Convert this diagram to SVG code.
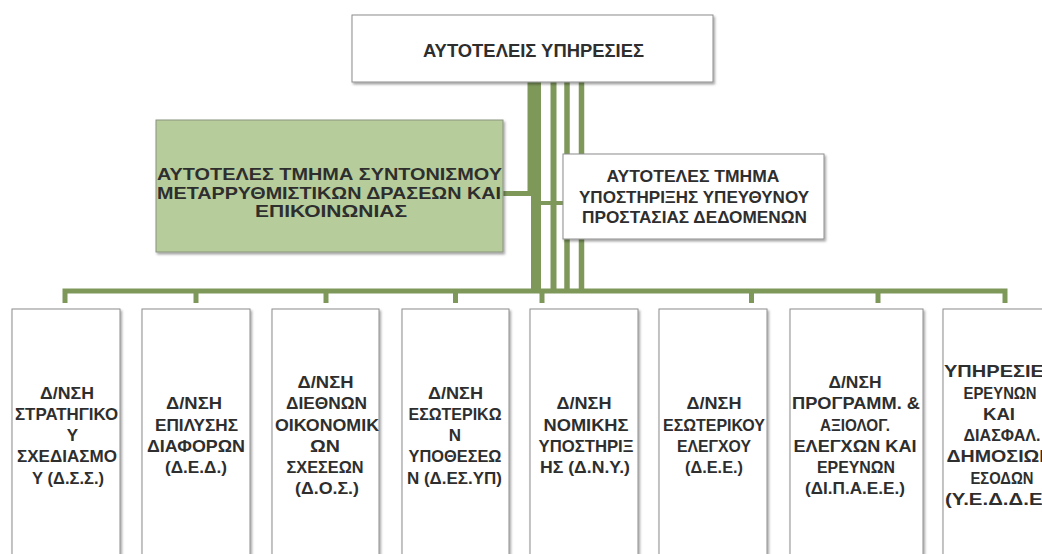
<svg xmlns="http://www.w3.org/2000/svg" width="1042" height="554" viewBox="0 0 1042 554">
<style>
.box{fill:#ffffff;stroke:#8c8c8c;stroke-width:1;filter:url(#sh)}
.gbox{fill:#b6cc9b;stroke:#8a9480;stroke-width:1;filter:url(#sh)}
.ln{stroke:#7e985a;fill:none;stroke-linecap:butt;stroke-linejoin:miter}
.t{font-family:"Liberation Sans","DejaVu Sans",Arial,sans-serif;fill:#2e2e2e;text-anchor:middle;font-weight:bold}
.tb{font-size:17px}
.tm{font-size:17px}
.tt{font-size:18.5px}
</style>
<defs>
<filter id="sh" x="-10%" y="-10%" width="130%" height="130%">
<feDropShadow dx="1.5" dy="2" stdDeviation="1.3" flood-color="#000" flood-opacity="0.35"/>
</filter>
</defs>
<rect width="1042" height="554" fill="#ffffff"/>
<g id="connectors">
<path class="ln" d="M530,82 V193.5 H503" stroke-width="5"/>
<path class="ln" d="M536,82 V291" stroke-width="10"/>
<path class="ln" d="M541,203 H563" stroke-width="4"/>
<path class="ln" d="M553.5,82 V291" stroke-width="6"/>
<path class="ln" d="M567,82 V291" stroke-width="5.5"/>
<path class="ln" d="M581.5,82 V291" stroke-width="5.5"/>
<path class="ln" d="M65,303 V291 H1005 V303" stroke-width="5"/>
<path class="ln" d="M196,291 V303 M326,291 V303 M455.5,291 V303 M542,291 V303 M751.5,291 V303 M878,291 V303" stroke-width="5"/>
</g>
<g id="node-top">
<rect class="box" x="352" y="15" width="361" height="67"/>
<text class="t tt" x="533.5" y="57" textLength="221" lengthAdjust="spacingAndGlyphs">ΑΥΤΟΤΕΛΕΙΣ ΥΠΗΡΕΣΙΕΣ</text>
</g>
<g id="node-coord">
<rect class="gbox" x="156" y="120" width="347" height="132"/>
<text class="t tm" x="329.5" y="180" textLength="345" lengthAdjust="spacingAndGlyphs">ΑΥΤΟΤΕΛΕΣ ΤΜΗΜΑ ΣΥΝΤΟΝΙΣΜΟΥ</text>
<text class="t tm" x="329" y="198.5" textLength="344" lengthAdjust="spacingAndGlyphs">ΜΕΤΑΡΡΥΘΜΙΣΤΙΚΩΝ ΔΡΑΣΕΩΝ ΚΑΙ</text>
<text class="t tm" x="331" y="217" textLength="152" lengthAdjust="spacingAndGlyphs">ΕΠΙΚΟΙΝΩΝΙΑΣ</text>
</g>
<g id="node-dpo">
<rect class="box" x="563" y="154" width="261" height="85"/>
<text class="t tm" x="693" y="181.7" textLength="173" lengthAdjust="spacingAndGlyphs">ΑΥΤΟΤΕΛΕΣ ΤΜΗΜΑ</text>
<text class="t tm" x="694" y="203.3" textLength="230" lengthAdjust="spacingAndGlyphs">ΥΠΟΣΤΗΡΙΞΗΣ ΥΠΕΥΘΥΝΟΥ</text>
<text class="t tm" x="694.5" y="223.3" textLength="225" lengthAdjust="spacingAndGlyphs">ΠΡΟΣΤΑΣΙΑΣ ΔΕΔΟΜΕΝΩΝ</text>
</g>
<g id="node-dss">
<rect class="box" x="12" y="309" width="108" height="252"/>
<text class="t tb" x="67" y="398.5" textLength="54" lengthAdjust="spacingAndGlyphs">Δ/ΝΣΗ</text>
<text class="t tb" x="66.5" y="419.8" textLength="103" lengthAdjust="spacingAndGlyphs">ΣΤΡΑΤΗΓΙΚΟ</text>
<text class="t tb" x="72.5" y="441.1">Υ</text>
<text class="t tb" x="67" y="462.4" textLength="100" lengthAdjust="spacingAndGlyphs">ΣΧΕΔΙΑΣΜΟ</text>
<text class="t tb" x="68" y="483.7" textLength="72" lengthAdjust="spacingAndGlyphs">Υ (Δ.Σ.Σ.)</text>
</g>
<g id="node-ded">
<rect class="box" x="142" y="309" width="108" height="252"/>
<text class="t tb" x="194" y="409.2" textLength="56" lengthAdjust="spacingAndGlyphs">Δ/ΝΣΗ</text>
<text class="t tb" x="196.5" y="430.5" textLength="83" lengthAdjust="spacingAndGlyphs">ΕΠΙΛΥΣΗΣ</text>
<text class="t tb" x="196" y="451.8" textLength="98" lengthAdjust="spacingAndGlyphs">ΔΙΑΦΟΡΩΝ</text>
<text class="t tb" x="196" y="473.1" textLength="62" lengthAdjust="spacingAndGlyphs">(Δ.Ε.Δ.)</text>
</g>
<g id="node-dos">
<rect class="box" x="272" y="309" width="107" height="252"/>
<text class="t tb" x="325.5" y="387.9" textLength="56" lengthAdjust="spacingAndGlyphs">Δ/ΝΣΗ</text>
<text class="t tb" x="326.5" y="409.2" textLength="81" lengthAdjust="spacingAndGlyphs">ΔΙΕΘΝΩΝ</text>
<text class="t tb" x="327" y="430.5" textLength="104" lengthAdjust="spacingAndGlyphs">ΟΙΚΟΝΟΜΙΚ</text>
<text class="t tb" x="325" y="451.8" textLength="30" lengthAdjust="spacingAndGlyphs">ΩΝ</text>
<text class="t tb" x="325" y="473.1" textLength="77" lengthAdjust="spacingAndGlyphs">ΣΧΕΣΕΩΝ</text>
<text class="t tb" x="327" y="494.4" textLength="64" lengthAdjust="spacingAndGlyphs">(Δ.Ο.Σ.)</text>
</g>
<g id="node-desyp">
<rect class="box" x="402" y="309" width="107" height="252"/>
<text class="t tb" x="455.5" y="398.5" textLength="55" lengthAdjust="spacingAndGlyphs">Δ/ΝΣΗ</text>
<text class="t tb" x="455" y="419.8" textLength="93" lengthAdjust="spacingAndGlyphs">ΕΣΩΤΕΡΙΚΩ</text>
<text class="t tb" x="455" y="441.1">Ν</text>
<text class="t tb" x="455" y="462.4" textLength="93" lengthAdjust="spacingAndGlyphs">ΥΠΟΘΕΣΕΩ</text>
<text class="t tb" x="454.5" y="483.7" textLength="95" lengthAdjust="spacingAndGlyphs">Ν (Δ.ΕΣ.ΥΠ)</text>
</g>
<g id="node-dny">
<rect class="box" x="530" y="309" width="108" height="252"/>
<text class="t tb" x="584" y="409.2" textLength="55" lengthAdjust="spacingAndGlyphs">Δ/ΝΣΗ</text>
<text class="t tb" x="586" y="430.5" textLength="85" lengthAdjust="spacingAndGlyphs">ΝΟΜΙΚΗΣ</text>
<text class="t tb" x="586" y="451.8" textLength="95" lengthAdjust="spacingAndGlyphs">ΥΠΟΣΤΗΡΙΞ</text>
<text class="t tb" x="585" y="473.1" textLength="90" lengthAdjust="spacingAndGlyphs">ΗΣ (Δ.Ν.Υ.)</text>
</g>
<g id="node-dee">
<rect class="box" x="659" y="309" width="108" height="252"/>
<text class="t tb" x="714" y="409.2" textLength="55" lengthAdjust="spacingAndGlyphs">Δ/ΝΣΗ</text>
<text class="t tb" x="714" y="430.5" textLength="102" lengthAdjust="spacingAndGlyphs">ΕΣΩΤΕΡΙΚΟΥ</text>
<text class="t tb" x="714" y="451.8" textLength="74" lengthAdjust="spacingAndGlyphs">ΕΛΕΓΧΟΥ</text>
<text class="t tb" x="714" y="473.1" textLength="58" lengthAdjust="spacingAndGlyphs">(Δ.Ε.Ε.)</text>
</g>
<g id="node-dipaee">
<rect class="box" x="790" y="309" width="133" height="252"/>
<text class="t tb" x="855" y="387.9" textLength="53" lengthAdjust="spacingAndGlyphs">Δ/ΝΣΗ</text>
<text class="t tb" x="856" y="409.2" textLength="128" lengthAdjust="spacingAndGlyphs">ΠΡΟΓΡΑΜΜ. &amp;</text>
<text class="t tb" x="855" y="430.5" textLength="70" lengthAdjust="spacingAndGlyphs">ΑΞΙΟΛΟΓ.</text>
<text class="t tb" x="855" y="451.8" textLength="123" lengthAdjust="spacingAndGlyphs">ΕΛΕΓΧΩΝ ΚΑΙ</text>
<text class="t tb" x="856" y="473.1" textLength="78" lengthAdjust="spacingAndGlyphs">ΕΡΕΥΝΩΝ</text>
<text class="t tb" x="855" y="494.4" textLength="100" lengthAdjust="spacingAndGlyphs">(ΔΙ.Π.Α.Ε.Ε.)</text>
</g>
<g id="node-yedde">
<rect class="box" x="943" y="309" width="133" height="252"/>
<text class="t tb" x="1000" y="377.2" textLength="112" lengthAdjust="spacingAndGlyphs">ΥΠΗΡΕΣΙΕΣ</text>
<text class="t tb" x="1000" y="398.5" textLength="73" lengthAdjust="spacingAndGlyphs">ΕΡΕΥΝΩΝ</text>
<text class="t tb" x="999" y="419.8" textLength="32" lengthAdjust="spacingAndGlyphs">ΚΑΙ</text>
<text class="t tb" x="1002" y="441.1" textLength="77" lengthAdjust="spacingAndGlyphs">ΔΙΑΣΦΑΛ.</text>
<text class="t tb" x="1000" y="462.4" textLength="107" lengthAdjust="spacingAndGlyphs">ΔΗΜΟΣΙΩΝ</text>
<text class="t tb" x="1002" y="483.7" textLength="63" lengthAdjust="spacingAndGlyphs">ΕΣΟΔΩΝ</text>
<text class="t tb" x="1000" y="505" textLength="110" lengthAdjust="spacingAndGlyphs">(Υ.Ε.Δ.Δ.Ε.)</text>
</g>
</svg>
